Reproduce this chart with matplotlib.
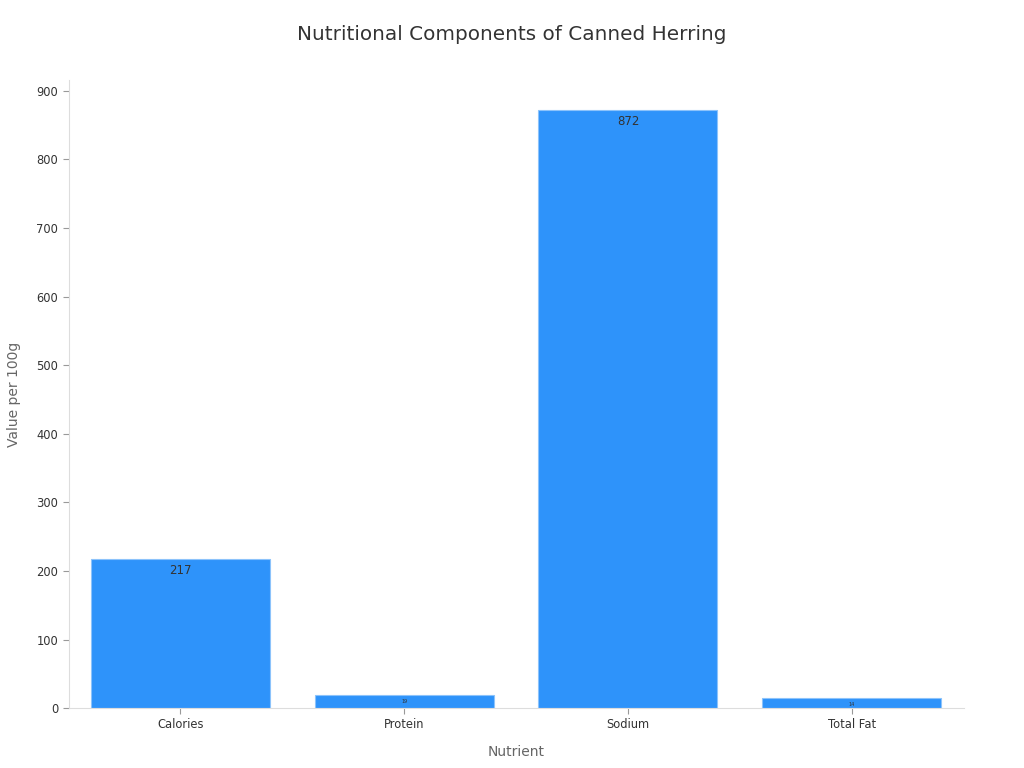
import matplotlib
matplotlib.use("Agg")
import matplotlib.pyplot as plt

categories = ["Calories", "Protein", "Sodium", "Total Fat"]
values = [217, 19, 872, 14]
label_sizes = [8.5, 3.5, 8.5, 3.5]

fig = plt.figure(figsize=(10.24, 7.68), dpi=100)
ax = fig.add_axes([0.067, 0.078, 0.874, 0.818])
x = range(len(categories))
bars = ax.bar(x, values, width=0.8, color="#2E93FA", edgecolor="#8cc3fb", linewidth=0.8)
for xi, v, s in zip(x, values, label_sizes):
    ax.annotate(str(v), (xi, v), xytext=(0, -3.5 if s > 5 else -2.5), textcoords="offset points",
                ha="center", va="top", fontsize=s, color="#333333")
ax.set_xlim(-0.5, 3.5)
ax.set_ylim(0, 916)
ax.set_yticks(range(0, 901, 100))
ax.set_xticks(list(x))
ax.set_xticklabels(categories)
ax.tick_params(axis="both", labelsize=8.3, colors="#333333", length=4, width=0.8)
ax.tick_params(axis="both", color="#999999")
ax.tick_params(axis="x", pad=3)
for sp in ["top", "right"]:
    ax.spines[sp].set_visible(False)
for sp in ["left", "bottom"]:
    ax.spines[sp].set_color("#dddddd")
    ax.spines[sp].set_linewidth(0.8)
ax.set_xlabel("Nutrient", fontsize=10, color="#666666", labelpad=10)
ax.set_ylabel("Value per 100g", fontsize=10, color="#666666", labelpad=11)
fig.suptitle("Nutritional Components of Canned Herring", fontsize=14.4, color="#333333", y=0.968)
fig.savefig("out.png", dpi=100)
